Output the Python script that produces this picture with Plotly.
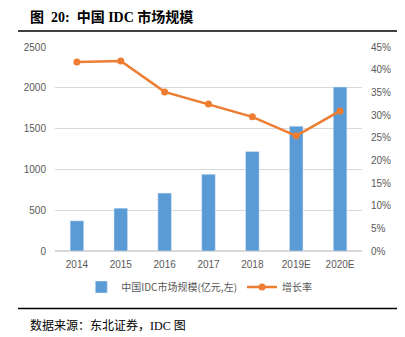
import plotly.graph_objects as go

categories = ["2014", "2015", "2016", "2017", "2018", "2019E", "2020E"]
market_size = [370, 525, 710, 940, 1220, 1530, 2010]
growth_rate = [0.417, 0.419, 0.351, 0.324, 0.296, 0.254, 0.309]

W, H = 405, 337
L, R, T, B = 55, 43, 47, 86
pw = W - L - R
ph = H - T - B

def px(x):
    return (x - L) / pw

def py(y):
    return (H - B - y) / ph

fig = go.Figure()
fig.add_trace(go.Bar(
    x=categories, y=market_size, name="中国IDC市场规模(亿元,左)",
    marker=dict(color="#5B9BD5"), yaxis="y",
))
fig.add_trace(go.Scatter(
    x=categories, y=growth_rate, name="增长率", mode="lines+markers",
    line=dict(color="#ED7D31", width=2.5), marker=dict(size=7, color="#ED7D31"),
    yaxis="y2",
))

tickfont = dict(family="Liberation Sans, Noto Sans CJK SC", size=10, color="#595959")
fig.update_layout(
    width=W, height=H,
    margin=dict(l=L, r=R, t=T, b=B),
    paper_bgcolor="white", plot_bgcolor="white",
    bargap=0.69,
    showlegend=True,
    legend=dict(orientation="h", x=0.47, xanchor="center", y=py(287), yanchor="middle",
                font=dict(family="Noto Sans CJK SC", size=10, color="#595959"),
                itemwidth=30, traceorder="normal"),
    xaxis=dict(type="category", tickfont=tickfont, showgrid=False, showline=False,
               ticks="", ticklabelstandoff=6),
    yaxis=dict(range=[0, 2500], dtick=500, tickfont=tickfont, showgrid=True,
               gridcolor="#D9D9D9", gridwidth=1, zeroline=True, zerolinecolor="#D9D9D9",
               showline=False, ticks="", ticklabelstandoff=8),
    yaxis2=dict(range=[0, 0.45], dtick=0.05, tickformat=".0%", overlaying="y",
                side="right", showgrid=False, zeroline=False, tickfont=tickfont,
                showline=False, ticks="", ticklabelstandoff=8),
    shapes=[
        dict(type="line", xref="paper", yref="paper", x0=px(18), x1=px(397),
             y0=py(31), y1=py(31), line=dict(color="black", width=1.5)),
        dict(type="line", xref="paper", yref="paper", x0=px(18), x1=px(397),
             y0=py(308.5), y1=py(308.5), line=dict(color="black", width=1.5)),
    ],
    annotations=[
        dict(text="<b>图  20:  中国 IDC 市场规模</b>", xref="paper", yref="paper",
             x=px(28), y=py(17), xanchor="left", yanchor="middle", showarrow=False,
             font=dict(family="Liberation Serif, Noto Sans CJK SC", size=14, color="black")),
        dict(text="数据来源：东北证券，IDC 图", xref="paper", yref="paper",
             x=px(28), y=py(325), xanchor="left", yanchor="middle", showarrow=False,
             font=dict(family="Liberation Serif, Noto Sans CJK SC", size=12, color="black")),
    ],
)

fig.write_html("out.html")
